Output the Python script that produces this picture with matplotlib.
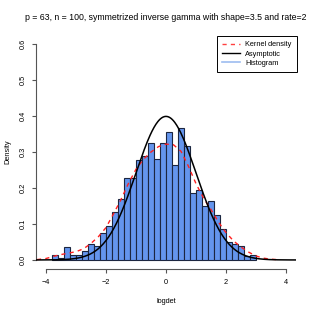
import numpy as np
import matplotlib
matplotlib.use("Agg")
import matplotlib.pyplot as plt
from matplotlib.lines import Line2D

plt.rcParams['font.family'] = ['Liberation Sans', 'DejaVu Sans']

title = "p = 63, n = 100, symmetrized inverse gamma with shape=3.5 and rate=2"
bin_left = [-3.8, -3.6, -3.4, -3.2, -3.0, -2.8, -2.6, -2.4, -2.2, -2.0,
            -1.8, -1.6, -1.4, -1.2, -1.0, -0.8, -0.6, -0.4, -0.2, 0.0,
            0.2, 0.4, 0.6, 0.8, 1.0, 1.2, 1.4, 1.6, 1.8, 2.0,
            2.2, 2.4, 2.6, 2.8]
bin_width = 0.2
hist_density = [0.014, 0.005, 0.035, 0.015, 0.015, 0.025, 0.045, 0.040, 0.075, 0.094,
                0.134, 0.170, 0.229, 0.229, 0.279, 0.290, 0.325, 0.280, 0.325, 0.355,
                0.265, 0.366, 0.316, 0.185, 0.195, 0.150, 0.164, 0.125, 0.085, 0.050,
                0.045, 0.040, 0.010, 0.015]

kde_x = [-4.3, -4.0, -3.75, -3.5, -3.25, -3.0, -2.75, -2.5, -2.25, -2.0, -1.75, -1.5,
         -1.25, -1.0, -0.75, -0.5, -0.25, 0.0, 0.25, 0.5, 0.75, 1.0, 1.25,
         1.5, 1.75, 2.0, 2.25, 2.5, 2.75, 3.0, 3.25, 3.5, 3.8]
kde_y = [0.001, 0.004, 0.010, 0.015, 0.019, 0.023, 0.031, 0.046, 0.065, 0.090, 0.128, 0.168,
         0.213, 0.252, 0.280, 0.300, 0.315, 0.322, 0.320, 0.302, 0.260, 0.212, 0.172,
         0.140, 0.105, 0.076, 0.053, 0.036, 0.022, 0.011, 0.005, 0.002, 0.0005]

asym_mean = 0.0
asym_sd = 1.0

x_ticks = [-4, -2, 0, 2, 4]
y_ticks = [0.0, 0.1, 0.2, 0.3, 0.4, 0.5, 0.6]

W = H = 315
fig = plt.figure(figsize=(3.15, 3.15), dpi=100)
ax = fig.add_axes([36.4 / W, (W - 268.6) / H, (295.6 - 36.4) / W, (268.6 - 35.4) / H])
ax.set_xlim(-4.32, 4.32)
ax.set_ylim(-0.024, 0.624)

ax.bar(bin_left, hist_density, width=bin_width, align='edge',
       color='#6495ED', edgecolor='#1c2640', linewidth=0.8, zorder=2)

ax.plot(kde_x, kde_y, color='#ff2020', linestyle=(0, (3, 3)), linewidth=1.0, zorder=3)

xs = np.linspace(-4.32, 4.32, 400)
ys = np.exp(-0.5 * ((xs - asym_mean) / asym_sd) ** 2) / (asym_sd * np.sqrt(2 * np.pi))
ax.plot(xs, ys, color='black', linewidth=1.1, zorder=4)

for s in ['top', 'right']:
    ax.spines[s].set_visible(False)
ax.spines['left'].set_bounds(0, 0.6)
ax.spines['bottom'].set_bounds(-4, 4)
for s in ['left', 'bottom']:
    ax.spines[s].set_color('#555555')
    ax.spines[s].set_linewidth(0.8)
ax.set_xticks(x_ticks)
ax.set_xticklabels(['\u22124', '\u22122', '0', '2', '4'])
ax.set_yticks(y_ticks)
ax.set_yticklabels(['0.0', '0.1', '0.2', '0.3', '0.4', '0.5', '0.6'], rotation=90, va='center')
ax.tick_params(axis='both', direction='out', length=3.2, width=0.8, color='#555555',
               labelsize=5.3, pad=4)

ax.set_xlabel('logdet', fontsize=5.3, labelpad=9)
ax.set_ylabel('Density', fontsize=5.3, labelpad=6)
fig.text(166 / W, 1 - 18 / H, title, ha='center', va='center', fontsize=6.3)

handles = [Line2D([], [], color='#ff4040', linestyle=(0, (3, 3)), linewidth=1.0),
           Line2D([], [], color='black', linewidth=1.0),
           Line2D([], [], color='#9dbcf0', linewidth=1.2)]
leg = ax.legend(handles, ['Kernel density', 'Asymptotic', 'Histogram'],
                loc='upper right', bbox_to_anchor=(297 / W, 1 - 36 / H),
                bbox_transform=fig.transFigure, fontsize=5.3, frameon=True,
                fancybox=False, edgecolor='black', framealpha=1,
                handlelength=2.4, handletextpad=0.8, borderpad=0.7,
                labelspacing=0.3, borderaxespad=0)
leg.get_frame().set_linewidth(0.7)

fig.savefig('out.png', dpi=100)
